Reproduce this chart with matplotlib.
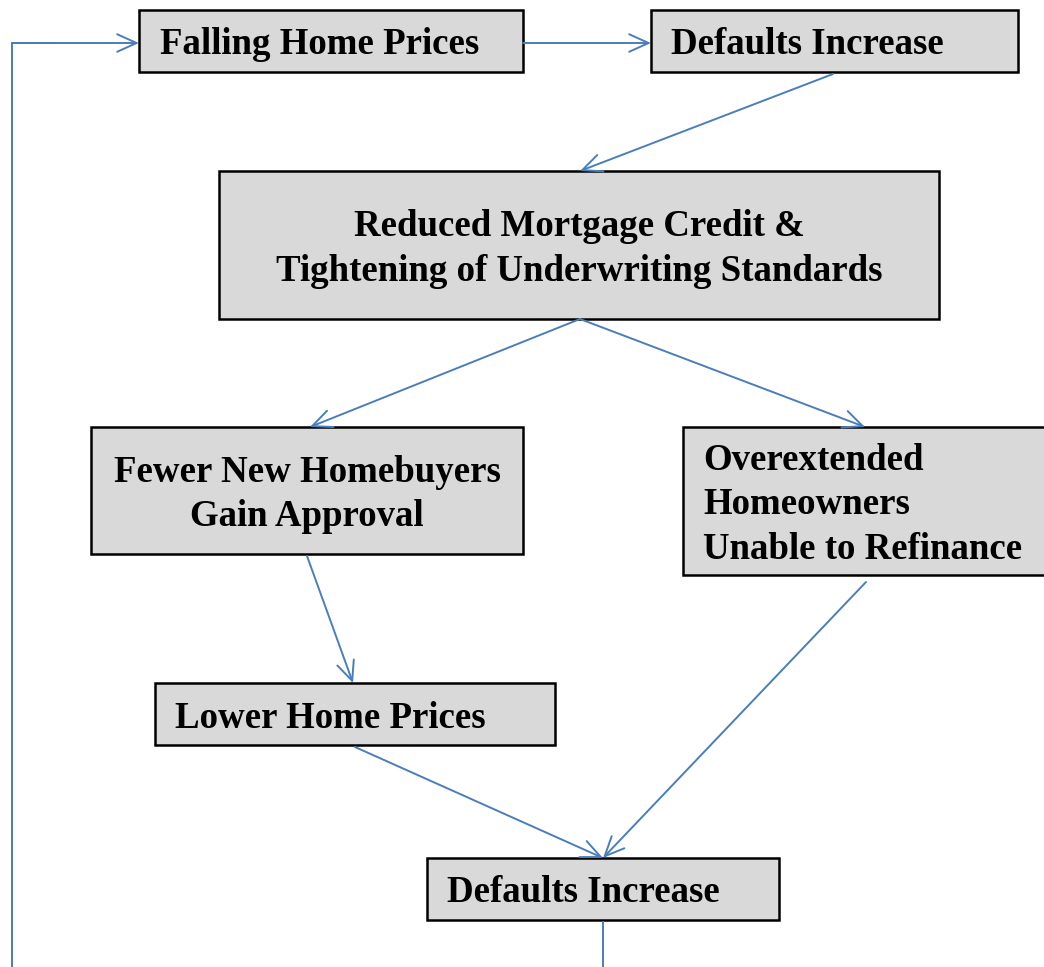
import matplotlib
matplotlib.use("Agg")
from matplotlib import pyplot as plt
from matplotlib.patches import Rectangle, FancyArrowPatch

plt.rcParams['font.family'] = ['Liberation Serif', 'DejaVu Serif']

# box texts
labels = ["Falling Home Prices",
          "Defaults Increase",
          "Reduced Mortgage Credit &\nTightening of Underwriting Standards",
          "Fewer New Homebuyers\nGain Approval",
          "Overextended\nHomeowners\nUnable to Refinance",
          "Lower Home Prices",
          "Defaults Increase"]

# layout in pixels: x0, y0, x1, y1 (y going down)
boxes = [(139, 10, 523, 72),
         (651, 10, 1018, 72),
         (219, 171, 939, 319),
         (91, 427, 523, 554),
         (683, 427, 1052, 575),
         (155, 683, 555, 745),
         (427, 858, 779, 920)]
align = ['left', 'left', 'center', 'center', 'left', 'left', 'left']
text_x = [160, 671, 579, 307, 703, 175, 447]

# arrows (start, end)
arrows = [((523, 43), (651, 43)),
          ((833, 74), (580, 171)),
          ((580, 319), (310, 427)),
          ((580, 319), (865, 427)),
          ((307, 556), (353, 683)),
          ((355, 747), (603, 858)),
          ((866, 582), (603, 858))]

fig = plt.figure(figsize=(10.44, 9.67), dpi=100)
ax = fig.add_axes([0, 0, 1, 1])
ax.set_xlim(0, 1044)
ax.set_ylim(967, 0)
ax.axis('off')

blue = '#4a7ebb'

for (x0, y0, x1, y1), lab, ha, tx in zip(boxes, labels, align, text_x):
    ax.add_patch(Rectangle((x0, y0), x1 - x0, y1 - y0, facecolor='#d9d9d9',
                           edgecolor='black', linewidth=1.8, zorder=2))
    ax.text(tx, (y0 + y1) / 2 + 4, lab, ha=ha, va='center', multialignment=ha,
            fontsize=26.6, fontweight='bold', linespacing=1.36, zorder=3)

for s, e in arrows:
    ax.add_patch(FancyArrowPatch(s, e, arrowstyle='->,head_length=1.0,head_width=0.45',
                                 mutation_scale=14, color=blue, linewidth=1.4,
                                 shrinkA=0, shrinkB=0, zorder=4))

# feedback loop back to the top
ax.plot([603, 603], [922, 967], color=blue, linewidth=1.4)
ax.plot([12, 12, 60], [967, 43, 43], color=blue, linewidth=1.4)
ax.add_patch(FancyArrowPatch((12, 43), (139, 43), arrowstyle='->,head_length=1.0,head_width=0.45',
                             mutation_scale=14, color=blue, linewidth=1.4,
                             shrinkA=0, shrinkB=0, zorder=4))

fig.savefig('out.png', dpi=100)
